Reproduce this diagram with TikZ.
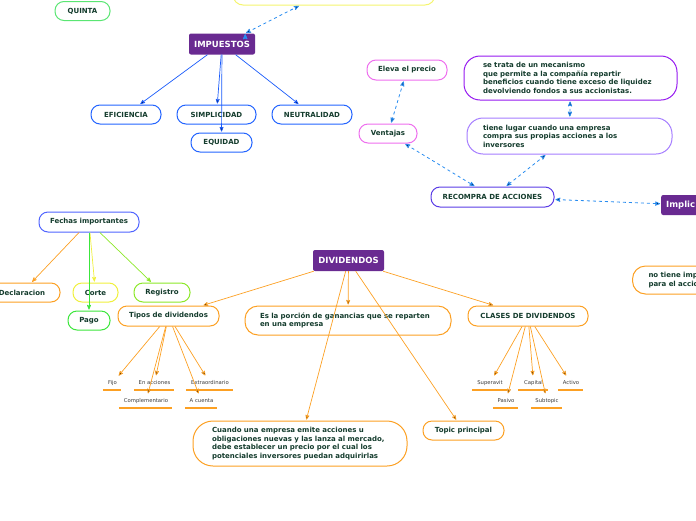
\documentclass[tikz,border=0pt]{standalone}
\usepackage{fontspec}
\setmainfont{DejaVu Sans}
\usetikzlibrary{arrows,positioning}
\definecolor{txtgreen}{RGB}{20,60,45}
\definecolor{leafgray}{RGB}{60,60,60}
\definecolor{mainpurple}{RGB}{105,42,145}
\definecolor{orangeb}{RGB}{252,160,35}
\definecolor{blueb}{RGB}{35,100,255}
\definecolor{bluea}{RGB}{25,90,250}
\definecolor{dashblue}{RGB}{40,140,240}
\definecolor{pinkb}{RGB}{238,110,238}
\definecolor{violetb}{RGB}{150,25,240}
\definecolor{lavb}{RGB}{165,125,255}
\definecolor{indigob}{RGB}{90,60,230}
\definecolor{fechab}{RGB}{80,100,255}
\definecolor{quintab}{RGB}{90,230,115}
\definecolor{pagob}{RGB}{60,230,60}
\definecolor{registrob}{RGB}{140,232,40}
\definecolor{corteb}{RGB}{240,240,60}
\definecolor{topyel}{RGB}{245,245,110}

\begin{document}
\begin{tikzpicture}[x=1pt,y=-1pt,>=stealth',shorten >=1pt,
  topic/.style={draw,line width=1pt,rounded corners=9pt,fill=white,text=txtgreen,
    font=\bfseries\fontsize{7}{8.5}\selectfont,minimum height=19pt,inner sep=0pt},
  note/.style={topic,align=left,rounded corners=16pt},
  main/.style={fill=mainpurple,rounded corners=2pt,text=white,
    font=\bfseries\fontsize{8.5}{10}\selectfont,minimum height=21pt,inner sep=0pt},
  leaf/.style={text=leafgray,font=\fontsize{5.3}{6}\selectfont,minimum height=13pt,inner sep=0pt},
  uline/.style={draw=orangeb,line width=1.6pt},
  link/.style={->,line width=0.7pt},
  duo/.style={<->,shorten <=1pt,dashed,line width=0.8pt,draw=dashblue}]

\useasboundingbox (0,0) rectangle (696,520);
\clip (0,0) rectangle (696,520);

\node[topic,draw=topyel,minimum width=202pt,minimum height=34pt,rounded corners=10pt] (top) at (334,-12) {};
\node[topic,draw=quintab,minimum width=55pt] (quinta) at (82.5,11) {QUINTA};

\node[main,minimum width=66pt] (imp) at (222,44) {IMPUESTOS};
\node[topic,draw=blueb,minimum width=70pt] (efi) at (126,114.5) {EFICIENCIA};
\node[topic,draw=blueb,minimum width=79pt] (sim) at (216.5,114.5) {SIMPLICIDAD};
\node[topic,draw=blueb,minimum width=80pt] (neu) at (312,114.5) {NEUTRALIDAD};
\node[topic,draw=blueb,minimum width=61pt] (equ) at (221.5,142.5) {EQUIDAD};

\node[topic,draw=pinkb,minimum width=80pt,minimum height=20pt] (eleva) at (407,70) {Eleva el precio};
\node[topic,draw=pinkb,minimum width=58pt] (ventajas) at (388,133.5) {Ventajas};
\node[note,draw=violetb,minimum height=44pt,inner xsep=19pt,text width=175pt] (mecanismo) at (570.5,78)
  {se trata de un mecanismo\\que permite a la compañía repartir\\beneficios cuando tiene exceso de liquidez\\devolviendo fondos a sus accionistas.};
\node[note,draw=lavb,minimum height=36pt,inner xsep=16pt,text width=173pt] (lugar) at (569.5,136)
  {tiene lugar cuando una empresa\\compra sus propias acciones a los\\inversores};
\node[topic,draw=indigob,minimum width=123pt,minimum height=20pt] (recompra) at (492.5,197) {RECOMPRA DE ACCIONES};
\node[main,anchor=west,inner xsep=5pt,text width=50pt,align=left,minimum height=20pt] (implic) at (661,205) {Implic};
\node[note,draw=orangeb,anchor=west,minimum height=28pt,rounded corners=13pt,inner xsep=16pt,text width=60pt] (notiene) at (632,280)
  {no tiene imp\\para el accio};

\node[topic,draw=fechab,minimum width=100pt,minimum height=20pt] (fechas) at (89,222) {Fechas importantes};
\node[topic,draw=orangeb,minimum width=76pt] (declaracion) at (22,292.5) {Declaracion};
\node[topic,draw=corteb,minimum width=45pt] (corte) at (95.5,292.5) {Corte};
\node[topic,draw=registrob,minimum width=56pt] (registro) at (162,292.5) {Registro};
\node[topic,draw=pagob,minimum width=42pt] (pago) at (89,320.5) {Pago};

\node[main,minimum width=71pt] (div) at (348.5,260.5) {DIVIDENDOS};
\node[topic,draw=orangeb,minimum width=101pt,minimum height=20pt] (tipos) at (168.5,316) {Tipos de dividendos};
\node[note,draw=orangeb,minimum height=29pt,rounded corners=13pt,inner xsep=15pt,text width=176pt] (porcion) at (348,320.5)
  {Es la porción de ganancias que se reparten\\en una empresa};
\node[topic,draw=orangeb,minimum width=120pt,minimum height=20pt] (clases) at (528,316) {CLASES DE DIVIDENDOS};
\node[note,draw=orangeb,minimum height=45pt,rounded corners=20pt,inner xsep=19pt,text width=176pt] (cuando) at (300,443.5)
  {Cuando una empresa emite acciones u\\obligaciones nuevas y las lanza al mercado,\\debe establecer un precio por el cual los\\potenciales inversores puedan adquirirlas};
\node[topic,draw=orangeb,minimum width=81pt] (topic) at (463.5,430.5) {Topic principal};

\node[leaf,minimum width=19pt] (fijo) at (112.5,383) {Fijo};
\node[leaf,minimum width=41pt] (enacciones) at (154.5,383) {En acciones};
\node[leaf,minimum width=48pt] (extra) at (210,383) {Extraordinario};
\node[leaf,minimum width=54pt] (compl) at (146,401) {Complementario};
\node[leaf,minimum width=33pt] (acuenta) at (201.5,401) {A cuenta};

\node[leaf,minimum width=36pt] (superavit) at (490,383) {Superavit};
\node[leaf,minimum width=31pt] (capital) at (533.5,383) {Capital};
\node[leaf,minimum width=26pt] (activo) at (571,383) {Activo};
\node[leaf,minimum width=26pt] (pasivo) at (506,401) {Pasivo};
\node[leaf,minimum width=32pt] (subtopic) at (547,401) {Subtopic};

\foreach \n in {fijo,enacciones,extra,compl,acuenta,superavit,capital,activo,pasivo,subtopic}
  \draw[uline] (\n.south west) -- (\n.south east);

\path[link,draw=bluea] (imp) edge (efi)
  edge (sim)
  edge (equ)
  edge (neu);

\path (imp.north east) ++(-10,0) coordinate (impne);
\path[duo] (impne) edge (top)
  (eleva) edge (ventajas)
  (ventajas) edge (recompra)
  (mecanismo) edge (lugar)
  (lugar) edge (recompra)
  (recompra) edge (implic);

\path[link] (fechas) edge[draw=orangeb] (declaracion)
  edge[draw=corteb] (corte)
  edge[draw=pagob] (pago)
  edge[draw=registrob] (registro);

\path[link,draw=orangeb] (div) edge (tipos)
  edge (porcion)
  edge (clases)
  edge (cuando)
  edge (topic);

\path[link,draw=orangeb] (tipos) edge (fijo)
  edge (enacciones)
  edge (compl)
  edge (acuenta)
  edge (extra);

\path[link,draw=orangeb] (clases) edge (superavit)
  edge (pasivo)
  edge (capital)
  edge (subtopic)
  edge (activo);
\end{tikzpicture}
\end{document}
